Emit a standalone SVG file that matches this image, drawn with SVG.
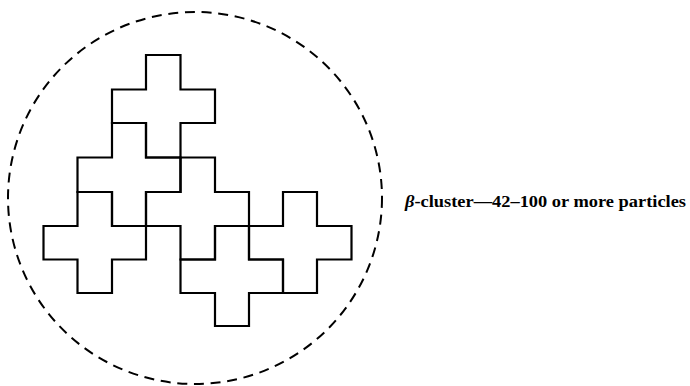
<svg xmlns="http://www.w3.org/2000/svg" width="690" height="386" viewBox="0 0 690 386">
<style>
.cross{fill:none;stroke:#000;stroke-width:2.2;stroke-linejoin:miter}
.bound{fill:none;stroke:#000;stroke-width:2;stroke-dasharray:10 6.7}
.lbl{font-family:"Liberation Serif","DejaVu Serif",serif;font-weight:bold;font-size:16px;fill:#000}
</style>
<rect width="690" height="386" fill="#fff"/>
<g id="boundary">
<ellipse class="bound" cx="195" cy="198" rx="187" ry="186"/>
</g>
<g id="particle-a"><path class="cross" d="M146,55 H180.5 V89.5 H215 V123 H180.5 V157.5 H146 V123 H112 V89.5 H146 Z"/></g>
<g id="particle-b"><path class="cross" d="M112,123 H146 V157.5 H180.5 V192 H146 V226 H112 V192 H77.5 V157.5 H112 Z"/></g>
<g id="particle-c"><path class="cross" d="M180.5,157.5 H215 V192 H249 V226 H215 V259.5 H180.5 V226 H146 V192 H180.5 Z"/></g>
<g id="particle-d"><path class="cross" d="M77.5,192 H112 V226 H146 V259.5 H112 V293 H77.5 V259.5 H43.5 V226 H77.5 Z"/></g>
<g id="particle-e"><path class="cross" d="M215,226 H249 V259.5 H283 V293 H249 V326 H215 V293 H180.5 V259.5 H215 Z"/></g>
<g id="particle-f"><path class="cross" d="M283,192 H317 V226 H351.5 V259.5 H317 V293 H283 V259.5 H249 V226 H283 Z"/></g>
<g id="connectors"></g>
<g id="label">
<text class="lbl" x="405" y="207" textLength="281" lengthAdjust="spacingAndGlyphs"><tspan font-style="italic">β</tspan>-cluster—42–100 or more particles</text>
</g>
</svg>
